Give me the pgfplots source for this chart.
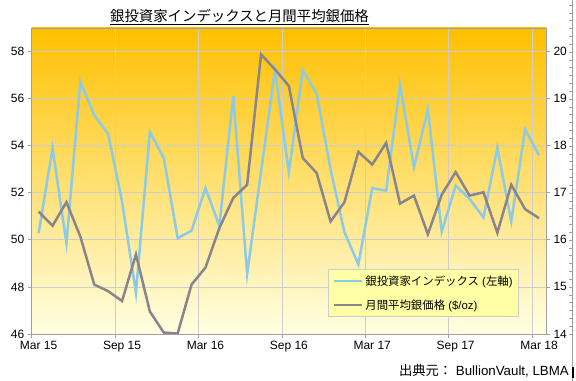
\documentclass[border=0pt]{standalone}
\usepackage{pgfplots}
\pgfplotsset{compat=1.18}
\usepackage{pgfplotstable}
\usepackage{fontspec}
\setmainfont{Liberation Sans}
\newfontfamily\jp{Noto Sans CJK JP}
\definecolor{idx}{RGB}{140,202,230}
\definecolor{ag}{RGB}{138,132,140}
\definecolor{gridc}{RGB}{205,205,205}
\definecolor{axc}{RGB}{160,160,160}
\definecolor{bgtop}{RGB}{255,192,0}
\definecolor{bgmid}{RGB}{255,255,96}
\definecolor{bgbot}{RGB}{255,255,226}
\definecolor{legfill}{RGB}{255,255,165}

\pgfplotstableread{
i v
0 50.28
1 53.90
2 49.85
3 56.72
4 55.30
5 54.50
6 51.63
7 47.75
8 54.59
9 53.48
10 50.07
11 50.39
12 52.20
13 50.60
14 56.11
15 48.55
16 52.90
17 57.20
18 52.88
19 57.20
20 56.21
21 53.00
22 50.32
23 48.96
24 52.20
25 52.09
26 56.60
27 53.08
28 55.54
29 50.35
30 52.30
31 51.74
32 50.95
33 53.90
34 50.78
35 54.69
36 53.59
}\idxdata

\pgfplotstableread{
i v
0 16.60
1 16.30
2 16.80
3 16.07
4 15.05
5 14.91
6 14.70
7 15.69
8 14.48
9 14.03
10 14.01
11 15.05
12 15.41
13 16.25
14 16.89
15 17.17
16 19.94
17 19.62
18 19.27
19 17.74
20 17.42
21 16.39
22 16.80
23 17.87
24 17.60
25 18.06
26 16.77
27 16.94
28 16.12
29 16.96
30 17.44
31 16.94
32 17.01
33 16.15
34 17.17
35 16.65
36 16.46
}\agdata

\begin{document}
\begin{tikzpicture}
\pgfplotsset{
  base/.style={
    scale only axis, width=514.3bp, height=306bp,
    at={(31.7bp,47bp)}, anchor=south west,
    xmin=-0.5, xmax=36.5,
    tick align=outside,
    major tick length=4bp, minor tick length=4bp,
    /pgf/number format/assume math mode=true,
    ticklabel style={font=\fontsize{12bp}{14bp}\selectfont},
    axis line style={axc, line width=0.8bp},
    tick style={axc, line width=0.8bp},
  }
}
\begin{axis}[base,
  ymin=46, ymax=59, ytick={46,48,...,58},
  ymajorgrids,
  xtick={0,6,...,36},
  xticklabels={Mar 15,Sep 15,Mar 16,Sep 16,Mar 17,Sep 17,Mar 18},
  minor xtick={-0.5,5.5,11.5,17.5,23.5,29.5,35.5},
  xminorgrids,
  xtick pos=bottom, ytick pos=left,
  major x tick style={draw=none},
  grid style={gridc, line width=0.8bp},
  minor grid style={gridc, line width=0.8bp},
  axis background/.style={top color=bgtop, middle color=bgmid, bottom color=bgbot},
]
\addplot[idx, line width=2.5bp] table[x=i,y=v]{\idxdata};
\end{axis}
\begin{axis}[base,
  axis x line=none, axis y line*=right,
  ymin=14, ymax=20.5, ytick={14,...,20},
  legend style={at={(0.9475,0.2124)}, anchor=north east,
    fill=legfill, draw=gridc, line width=0.8bp,
    font=\fontsize{11.4bp}{13bp}\selectfont,
    row sep=9bp, inner sep=4bp},
  legend cell align=left,
  legend image code/.code={\draw[#1] (0bp,0bp) -- (28bp,0bp);},
]
\addlegendimage{idx, line width=2.5bp}
\addlegendentry{{\jp 銀投資家インデックス} ({\jp 左軸})}
\addplot[ag, line width=2.5bp] table[x=i,y=v]{\agdata};
\addlegendentry{{\jp 月間平均銀価格} (\$/oz)}
\end{axis}
\node[anchor=base, font=\fontsize{14.4bp}{16bp}\selectfont] at (239.5bp,359bp) {\underline{\jp 銀投資家インデックスと月間平均銀価格}};
\node[anchor=base east, font=\fontsize{13.3bp}{15bp}\selectfont, inner sep=0pt] at (569bp,6bp) {{\jp 出典元：} BullionVault, LBMA};
\draw[axc, line width=0.8bp] (572bp,0bp) -- (572bp,381bp);
\foreach \k in {0,...,47} {\pgfmathsetmacro\yy{47+\k*7.83}\draw[axc, line width=0.6bp] (569bp,\yy bp) -- (572bp,\yy bp);}
\fill[black] (571.5bp,3bp) rectangle (574bp,14bp);
\pgfresetboundingbox
\path[use as bounding box] (0bp,0bp) rectangle (576bp,381bp);
\end{tikzpicture}
\end{document}
